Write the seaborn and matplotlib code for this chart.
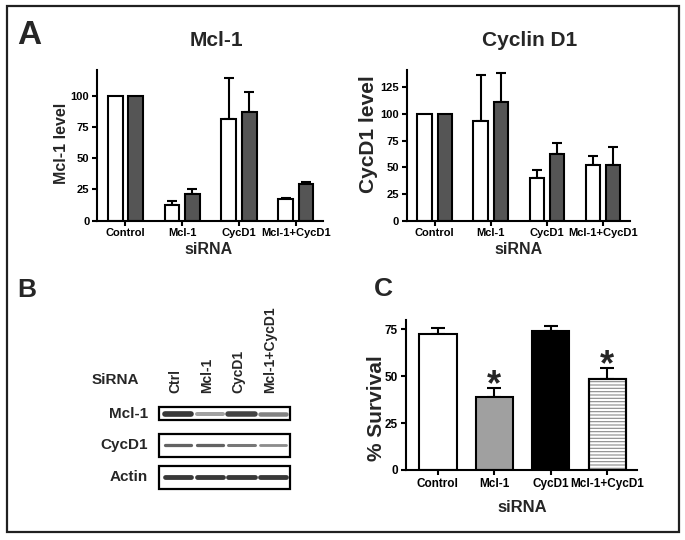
#!/usr/bin/env python
# coding: utf-8

import pandas as pd
import matplotlib
matplotlib.use('Agg')
import matplotlib.pyplot as plt
from matplotlib.patches import Rectangle
import seaborn as sns

W, H = 685, 540

# siRNA groups (x categories of every bar panel)
groups = ['Control', 'Mcl-1', 'CycD1', 'Mcl-1+CycD1']

# Panel A, Mcl-1 level: white and dark series, upper SE
mcl1_white = [100, 12.6, 81.0, 17.0]
mcl1_white_err = [0, 3.2, 33.0, 0.9]
mcl1_dark = [100, 21.0, 87.2, 29.3]
mcl1_dark_err = [0, 4.6, 15.8, 1.8]

# Panel A, CycD1 level
cycd1_white = [100, 93.0, 40.0, 52.5]
cycd1_white_err = [0, 43.0, 7.5, 8.5]
cycd1_dark = [100, 111.5, 62.5, 52.0]
cycd1_dark_err = [0, 26.5, 10.0, 16.8]

# Panel C, % survival
survival = [72.3, 39.2, 74.3, 48.4]
survival_err = [3.4, 4.8, 2.3, 6.2]
significant = [False, True, False, True]

# Panel B, western blot band strength (0..1) per row and lane
blot_lanes = ['Ctrl', 'Mcl-1', 'CycD1', 'Mcl-1+CycD1']
blot_rows = ['Mcl-1', 'CycD1', 'Actin']
band_mcl1 = [0.95, 0.45, 0.9, 0.6]
band_cycd1 = [0.75, 0.75, 0.65, 0.55]
band_actin = [0.95, 0.95, 0.95, 0.95]


def px_axes(fig, left, top, right, bottom):
    return fig.add_axes([left / W, 1 - bottom / H, (right - left) / W, (bottom - top) / H])


def fig_text(fig, x, y, s, **kw):
    fig.text(x / W, 1 - y / H, s, ha=kw.pop('ha', 'center'), va=kw.pop('va', 'center'),
             fontweight='bold', **kw)


def style_axes(ax, labelsize=8):
    sns.despine(ax=ax)
    for side in ['left', 'bottom']:
        ax.spines[side].set_linewidth(1.5)
    ax.tick_params(axis='both', direction='out', length=3.5, width=1.5,
                   labelsize=labelsize, pad=2)
    ax.set_xlabel('')
    ax.set_ylabel('')
    for lab in ax.get_xticklabels() + ax.get_yticklabels():
        lab.set_fontweight('bold')


def add_errors(ax, bars, vals, errs, capsize):
    for bar, v, e in zip(bars, vals, errs):
        if e > 0:
            xc = bar.get_x() + bar.get_width() / 2
            ax.errorbar(xc, v, yerr=[[0], [e]], fmt='none', ecolor='black',
                        elinewidth=1.5, capsize=capsize, capthick=1.5, zorder=1)


def level_panel(ax, white, white_err, dark, dark_err, ymax, yticks):
    df = pd.DataFrame({'siRNA': groups * 2,
                       'series': ['white'] * 4 + ['dark'] * 4,
                       'level': white + dark})
    sns.barplot(data=df, x='siRNA', y='level', hue='series', palette=['white', '#555555'],
                width=0.72, gap=0.28, edgecolor='black', linewidth=1.5, saturation=1,
                errorbar=None, legend=False, ax=ax, zorder=2)
    for cont, vals, errs in zip(ax.containers, [white, dark], [white_err, dark_err]):
        add_errors(ax, cont, vals, errs, 3.6)
    ax.set_xlim(-0.5, 3.48)
    ax.set_ylim(0, ymax)
    ax.set_yticks(yticks)
    style_axes(ax)


def blot_panel(ax):
    rows = [band_mcl1, band_cycd1, band_actin]
    box_h = [0.43, 0.73, 0.73]
    thick = [4.0, 2.6, 3.4]
    ax.set_xlim(-0.88, 3.84)
    ax.set_ylim(2.56, -0.43)
    ax.axis('off')
    for j, (name, bands) in enumerate(zip(blot_rows, rows)):
        ax.add_patch(Rectangle((-0.59, j - box_h[j] / 2), 4.11, box_h[j],
                               fill=False, lw=1.6, ec='black'))
        for i, b in enumerate(bands):
            shade = 1 - 0.82 * b
            ax.plot([i - 0.41, i + 0.41], [j, j], color=(shade, shade, shade),
                    lw=thick[j] * (0.45 + 0.6 * b), solid_capstyle='round')
        ax.text(-0.94, j, name, ha='right', va='center', fontsize=11, fontweight='bold')
    for i, lane in enumerate(blot_lanes):
        ax.text(i - 0.09, -0.64, lane, rotation=90, ha='center', va='bottom',
                fontsize=10, fontweight='bold')
    ax.text(-1.96, -1.06, 'SiRNA', ha='center', va='center', fontsize=11, fontweight='bold')


def survival_panel(ax):
    df = pd.DataFrame({'siRNA': groups, 'survival': survival})
    sns.barplot(data=df, x='siRNA', y='survival', hue='siRNA',
                palette=['white', '#a0a0a0', 'black', 'white'], width=0.66,
                edgecolor='black', linewidth=1.5, saturation=1, errorbar=None,
                legend=False, ax=ax, zorder=2)
    bars = sorted(ax.patches, key=lambda p: p.get_x())
    # horizontal gray stripes on the combined knock-down bar
    b = bars[3]
    ax.add_patch(Rectangle((b.get_x(), 0), b.get_width(), b.get_height(), fc='none',
                           ec='#8a8a8a', lw=0, hatch='-----', zorder=2.5))
    ax.add_patch(Rectangle((b.get_x(), 0), b.get_width(), b.get_height(), fc='none',
                           ec='black', lw=1.5, zorder=2.6))
    add_errors(ax, bars, survival, survival_err, 5)
    for bar, v, e, sig in zip(bars, survival, survival_err, significant):
        if sig:
            ax.text(bar.get_x() + bar.get_width() / 2, v + e - 4.2, '*', ha='center',
                    va='baseline', fontsize=26, fontweight='bold')
    ax.set_xlim(-0.57, 3.52)
    ax.set_ylim(0, 80)
    ax.set_yticks([0, 25, 50, 75])
    style_axes(ax, labelsize=8.5)


def main():
    sns.set_theme(style='ticks')
    plt.rcParams['font.family'] = ['Liberation Sans', 'DejaVu Sans']
    plt.rcParams['hatch.linewidth'] = 0.8
    plt.rcParams['axes.edgecolor'] = 'black'
    plt.rcParams['xtick.color'] = 'black'
    plt.rcParams['ytick.color'] = 'black'

    fig = plt.figure(figsize=(W / 100, H / 100), dpi=100)

    ax1 = px_axes(fig, 97, 70, 323, 220.7)
    level_panel(ax1, mcl1_white, mcl1_white_err, mcl1_dark, mcl1_dark_err, 120.5,
                [0, 25, 50, 75, 100])
    ax2 = px_axes(fig, 406.7, 70, 630, 220.7)
    level_panel(ax2, cycd1_white, cycd1_white_err, cycd1_dark, cycd1_dark_err, 141,
                [0, 25, 50, 75, 100, 125])
    axb = px_axes(fig, 150, 400, 300, 495)
    blot_panel(axb)
    axc = px_axes(fig, 405.7, 320, 636.7, 470)
    survival_panel(axc)

    # panel letters, titles and axis labels
    fig_text(fig, 29, 36, 'A', fontsize=24)
    fig_text(fig, 26.5, 290, 'B', fontsize=19)
    fig_text(fig, 383, 289.5, 'C', fontsize=19)
    fig_text(fig, 216, 41, 'Mcl-1', fontsize=15)
    fig_text(fig, 530, 41, 'Cyclin D1', fontsize=15)
    fig_text(fig, 209, 249, 'siRNA', fontsize=11.5)
    fig_text(fig, 519, 249, 'siRNA', fontsize=11.5)
    fig_text(fig, 522.5, 508, 'siRNA', fontsize=12)
    fig_text(fig, 61, 143, 'Mcl-1 level', fontsize=11.5, rotation=90)
    fig_text(fig, 369, 134, 'CycD1 level', fontsize=15, rotation=90)
    fig_text(fig, 376, 408, '% Survival', fontsize=15, rotation=90)

    # outer frame
    fig.add_artist(Rectangle((6.5 / W, 1 - 531.5 / H), 672.5 / W, 525.5 / H,
                             transform=fig.transFigure, fill=False, lw=1.6, ec='#202020'))

    fig.savefig('out.png', dpi=100)


if __name__ == "__main__":
    main()
